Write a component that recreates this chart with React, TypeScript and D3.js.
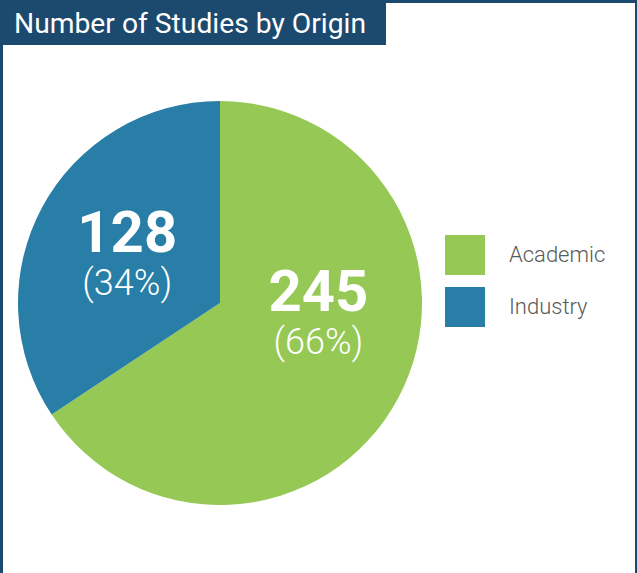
import { arc, pie } from "d3";

const categories = ["Academic", "Industry"];
const studies = [245, 128];
const shares = ["66%", "34%"];
const colors = ["#96c855", "#287ea6"];
// label placement per slice: [angle in degrees from 12 o'clock, distance as fraction of radius]
const labelSpots: [number, number][] = [
  [96, 0.49],
  [298, 0.52],
];

const W = 637;
const H = 573;
const navy = "#1c4a6e";

export default function App() {
  const cx = 220;
  const cy = 303;
  const radius = 202;

  const slices = pie<number>().sort(null).value((d) => d)(studies);
  const wedge = arc<(typeof slices)[number]>().innerRadius(0).outerRadius(radius);

  return (
    <svg
      width={W}
      height={H}
      viewBox={`0 0 ${W} ${H}`}
      style={{ position: "absolute", left: 0, top: 0, background: "#fff" }}
    >
      {/* frame */}
      <rect x={0} y={0} width={W} height={3} fill={navy} />
      <rect x={0} y={0} width={3} height={H} fill={navy} />
      <rect x={W - 2} y={0} width={2} height={H} fill={navy} />
      <rect x={0} y={0} width={386} height={45} fill={navy} />
      <text x={14} y={33} fill="#fff" fontFamily="Roboto" fontSize={27} textLength={352} lengthAdjust="spacingAndGlyphs">
        Number of Studies by Origin
      </text>

      <g transform={`translate(${cx},${cy})`}>
        {slices.map((s, i) => (
          <path key={categories[i]} d={wedge(s) ?? ""} fill={colors[i]} />
        ))}
        {slices.map((s, i) => {
          const [deg, frac] = labelSpots[i];
          const a = (deg * Math.PI) / 180;
          const x = Math.sin(a) * radius * frac;
          const y = -Math.cos(a) * radius * frac;
          return (
            <g key={`lbl-${categories[i]}`} transform={`translate(${x},${y})`} fill="#fff" textAnchor="middle" fontFamily="Roboto">
              <text y={-2} fontSize={58} fontWeight={700}>
                {s.data}
              </text>
              <text y={41} fontSize={36} fontWeight={300}>
                ({shares[i]})
              </text>
            </g>
          );
        })}
      </g>

      {/* legend */}
      {categories.map((c, i) => (
        <g key={c} transform={`translate(445,${235 + i * 52})`}>
          <rect width={40} height={40} fill={colors[i]} />
          <text x={64} y={27} fontFamily="Roboto" fontSize={22} fontWeight={300} fill="#5a5a5a">
            {c}
          </text>
        </g>
      ))}
    </svg>
  );
}
